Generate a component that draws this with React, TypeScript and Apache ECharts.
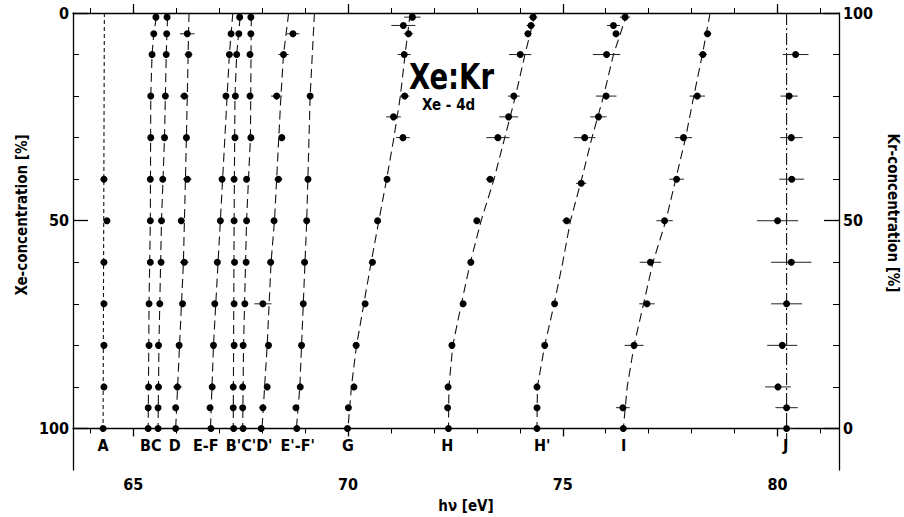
import React, { useEffect, useRef } from "react";
import * as echarts from "echarts";

// ---- measured points: [Xe-concentration %, hν eV, ± error eV] ----
const ptsA = [[40, 64.32, 0], [50, 64.39, 0], [60, 64.32, 0], [70, 64.32, 0], [80, 64.32, 0], [90, 64.32, 0], [100, 64.30, 0]];
const ptsB = [[1, 65.53, 0], [5, 65.48, 0], [10, 65.44, 0], [20, 65.41, 0], [30, 65.41, 0], [40, 65.40, 0], [50, 65.40, 0], [60, 65.40, 0], [70, 65.37, 0], [80, 65.37, 0], [90, 65.36, 0], [95, 65.35, 0], [100, 65.35, 0]];
const ptsC = [[1, 65.79, 0], [5, 65.78, 0], [10, 65.77, 0], [20, 65.75, 0], [30, 65.73, 0], [40, 65.69, 0], [50, 65.66, 0], [60, 65.65, 0], [70, 65.62, 0], [80, 65.59, 0], [90, 65.59, 0], [95, 65.58, 0], [100, 65.58, 0]];
const ptsD = [[5, 66.26, 0.17], [10, 66.29, 0.09], [20, 66.19, 0.1], [30, 66.24, 0.03], [40, 66.26, 0.1], [50, 66.12, 0.05], [60, 66.19, 0.1], [70, 66.15, 0.03], [80, 66.07, 0.03], [90, 66.03, 0.1], [95, 65.99, 0.04], [100, 65.99, 0.03]];
const ptsEF = [[5, 67.28, 0], [10, 67.24, 0], [20, 67.16, 0], [40, 67.07, 0], [50, 67.03, 0], [60, 66.96, 0], [70, 66.90, 0], [80, 66.87, 0], [90, 66.84, 0], [95, 66.79, 0], [100, 66.81, 0]];
const ptsB2 = [[1, 67.48, 0], [5, 67.46, 0], [10, 67.41, 0], [20, 67.38, 0], [30, 67.37, 0], [40, 67.35, 0], [50, 67.35, 0], [60, 67.36, 0], [70, 67.35, 0], [80, 67.35, 0], [90, 67.33, 0], [95, 67.33, 0], [100, 67.34, 0]];
const ptsC2 = [[1, 67.74, 0], [5, 67.74, 0], [10, 67.72, 0], [20, 67.72, 0], [30, 67.74, 0], [40, 67.64, 0], [50, 67.64, 0], [60, 67.63, 0], [70, 67.60, 0], [80, 67.56, 0], [90, 67.55, 0], [95, 67.55, 0], [100, 67.56, 0]];
const ptsD2 = [[5, 68.72, 0.15], [10, 68.50, 0.12], [20, 68.34, 0.13], [30, 68.46, 0.08], [40, 68.38, 0.09], [50, 68.28, 0.04], [60, 68.20, 0.05], [70, 68.02, 0.2], [80, 68.15, 0.06], [90, 68.12, 0.03], [95, 68.02, 0.08], [100, 67.98, 0.09]];
const ptsEF2 = [[20, 69.12, 0], [40, 69.07, 0], [50, 69.04, 0], [60, 68.99, 0], [70, 68.96, 0], [80, 68.92, 0], [90, 68.89, 0], [95, 68.79, 0], [100, 68.81, 0]];
const ptsG = [[1, 71.50, 0.19], [3, 71.29, 0.28], [5, 71.41, 0.11], [10, 71.31, 0.15], [20, 71.32, 0.11], [25, 71.06, 0.17], [30, 71.28, 0.16], [40, 70.91, 0.05], [50, 70.69, 0.03], [60, 70.57, 0.03], [70, 70.40, 0.05], [80, 70.19, 0.05], [90, 70.14, 0.03], [95, 70.01, 0.03], [100, 69.99, 0.03]];
const ptsH = [[1, 74.31, 0.1], [3, 74.26, 0.1], [5, 74.19, 0.08], [10, 74.01, 0.26], [20, 73.86, 0.14], [25, 73.74, 0.22], [30, 73.49, 0.27], [40, 73.31, 0.1], [50, 73.00, 0.05], [60, 72.86, 0.03], [70, 72.68, 0.03], [80, 72.42, 0.03], [90, 72.33, 0.03], [95, 72.32, 0.03], [100, 72.34, 0.03]];
const ptsH2 = [[1, 76.45, 0.12], [3, 76.18, 0.15], [5, 76.24, 0.07], [10, 76.02, 0.32], [20, 76.01, 0.24], [25, 75.83, 0.19], [30, 75.51, 0.25], [41, 75.43, 0.12], [50, 75.09, 0.1], [70, 74.81, 0.05], [80, 74.58, 0.03], [90, 74.40, 0.03], [95, 74.40, 0.03], [100, 74.40, 0.03]];
const ptsI = [[5, 78.37, 0.09], [10, 78.26, 0.1], [20, 78.13, 0.18], [30, 77.81, 0.2], [40, 77.65, 0.17], [50, 77.37, 0.19], [60, 77.04, 0.25], [70, 76.96, 0.18], [80, 76.66, 0.22], [95, 76.40, 0.16], [100, 76.41, 0.09]];
const ptsJ = [[10, 80.42, 0.3], [20, 80.27, 0.2], [30, 80.32, 0.26], [40, 80.33, 0.29], [50, 80.00, 0.48], [60, 80.32, 0.47], [70, 80.21, 0.36], [80, 80.11, 0.35], [90, 80.01, 0.3], [95, 80.21, 0.26], [100, 80.21, 0.16]];

// ---- dashed guide curves: [Xe-concentration %, hν eV] ----
const fitA = [[0, 64.33], [100, 64.30]];
const fitB = [[1, 65.54], [5, 65.48], [10, 65.44], [20, 65.41], [50, 65.40], [70, 65.37], [100, 65.35]];
const fitC = [[1, 65.80], [10, 65.77], [30, 65.73], [50, 65.66], [80, 65.60], [100, 65.58]];
const fitD = [[0, 66.30], [30, 66.24], [60, 66.17], [80, 66.08], [100, 65.99]];
const fitEF = [[0, 67.32], [10, 67.24], [50, 67.03], [80, 66.87], [100, 66.80]];
const fitB2 = [[1, 67.49], [10, 67.41], [20, 67.37], [50, 67.35], [100, 67.33]];
const fitC2 = [[1, 67.75], [30, 67.73], [50, 67.64], [80, 67.57], [100, 67.55]];
const fitD2 = [[0, 68.62], [10, 68.50], [20, 68.44], [50, 68.29], [60, 68.21], [80, 68.12], [100, 68.00]];
const fitEF2 = [[0, 69.22], [20, 69.12], [50, 69.04], [90, 68.88], [100, 68.80]];
const fitG = [[0, 71.45], [10, 71.33], [20, 71.22], [30, 71.07], [40, 70.90], [50, 70.72], [60, 70.54], [70, 70.37], [80, 70.20], [90, 70.08], [100, 70.00]];
const fitH = [[0, 74.36], [10, 74.12], [20, 73.90], [30, 73.65], [40, 73.40], [50, 73.10], [60, 72.85], [70, 72.64], [80, 72.44], [90, 72.35], [100, 72.34]];
const fitH2 = [[0, 76.50], [10, 76.18], [20, 75.95], [30, 75.68], [40, 75.44], [50, 75.18], [60, 75.00], [70, 74.80], [80, 74.58], [90, 74.41], [100, 74.40]];
const fitI = [[0, 78.43], [10, 78.25], [20, 78.05], [30, 77.86], [40, 77.63], [50, 77.40], [60, 77.10], [70, 76.88], [80, 76.66], [90, 76.50], [100, 76.41]];
const fitJ = [[0, 80.21], [104, 80.21]];

// ---- peak labels ----
const peakNames = ["A", "BC", "D", "E-F", "B'C'D'", "E'-F'", "G", "H", "H'", "I", "J"];
const peakLabelEv = [64.30, 65.41, 65.97, 66.69, 67.70, 68.83, 70.0, 72.31, 74.52, 76.42, 80.19];
const peakLabelXe = 104;

// ---- axes ----
const xMajorTicks = [65, 70, 75, 80];
const xMinorTicks = [64, 65, 66, 67, 68, 69, 70, 71, 72, 73, 74, 75, 76, 77, 78, 79, 80, 81];
const yMajorTicks = [0, 50, 100];
const yMinorTicks = [10, 20, 30, 40, 60, 70, 80, 90];
const krMajorTicks = [0, 50, 100];
const krMinorTicks = [10, 20, 30, 40, 60, 70, 80, 90];

const FONT = '"DejaVu Sans Condensed", "DejaVu Sans", sans-serif';

const lines = [
  { pts: ptsA, fit: fitA, dash: [4, 3] },
  { pts: ptsB, fit: fitB, dash: [9, 5] },
  { pts: ptsC, fit: fitC, dash: [9, 5] },
  { pts: ptsD, fit: fitD, dash: [9, 5] },
  { pts: ptsEF, fit: fitEF, dash: [9, 5] },
  { pts: ptsB2, fit: fitB2, dash: [9, 5] },
  { pts: ptsC2, fit: fitC2, dash: [9, 5] },
  { pts: ptsD2, fit: fitD2, dash: [9, 5] },
  { pts: ptsEF2, fit: fitEF2, dash: [9, 5] },
  { pts: ptsG, fit: fitG, dash: [9, 5] },
  { pts: ptsH, fit: fitH, dash: [9, 5] },
  { pts: ptsH2, fit: fitH2, dash: [9, 5] },
  { pts: ptsI, fit: fitI, dash: [9, 5] },
  { pts: ptsJ, fit: fitJ, dash: [12, 3, 2, 3] },
];

const X_MIN = 63.6;
const X_MAX = 81.43;

function App() {
  const ref = useRef<HTMLDivElement>(null);
  useEffect(() => {
    if (!ref.current) return;
    const chart = echarts.init(ref.current, null, { renderer: "svg" });

    const baseX = {
      type: "value",
      min: X_MIN,
      max: X_MAX,
      splitLine: { show: false },
      axisLine: { show: true, lineStyle: { color: "#000", width: 1.3 } },
    };
    const baseY = {
      type: "value",
      min: 0,
      max: 110,
      inverse: true,
      splitLine: { show: false },
      axisLine: { show: true, onZero: false, lineStyle: { color: "#000", width: 1.3 } },
    };

    const series: any[] = [];
    lines.forEach((l) => {
      series.push({
        type: "line",
        data: l.fit.map((p) => [p[1], p[0]]),
        showSymbol: false,
        symbol: "none",
        lineStyle: { color: "#111", width: 1.1, type: l.dash },
        silent: true,
        z: 1,
      });
    });
    const errData: any[] = [];
    lines.forEach((l) => l.pts.forEach((p) => { if (p[2] > 0) errData.push([p[1], p[0], p[2]]); }));
    series.push({
      type: "custom",
      data: errData,
      renderItem: (_params: any, api: any) => {
        const x = api.value(0), y = api.value(1), e = api.value(2);
        const a = api.coord([x - e, y]);
        const b = api.coord([x + e, y]);
        return {
          type: "line",
          shape: { x1: a[0], y1: a[1], x2: b[0], y2: b[1] },
          style: { stroke: "#222", lineWidth: 1 },
        };
      },
      silent: true,
      z: 2,
    });
    const ptData: any[] = [];
    lines.forEach((l) => l.pts.forEach((p) => ptData.push([p[1], p[0]])));
    series.push({
      type: "scatter",
      data: ptData,
      symbol: "circle",
      symbolSize: 7,
      itemStyle: { color: "#000", opacity: 1 },
      silent: true,
      z: 3,
    });
    series.push({
      type: "scatter",
      data: peakNames.map((n, i) => ({ name: n, value: [peakLabelEv[i], peakLabelXe] })),
      symbolSize: 1,
      itemStyle: { color: "rgba(0,0,0,0)", opacity: 1 },
      label: {
        show: true,
        position: "inside",
        formatter: "{b}",
        color: "#000",
        opacity: 1,
        fontSize: 16,
        fontWeight: "bold",
        fontFamily: FONT,
      },
      silent: true,
      z: 4,
    });

    chart.setOption({
      animation: false,
      backgroundColor: "#fff",
      grid: { left: 73, right: 65, top: 13, bottom: 47 },
      xAxis: [
        {
          ...baseX,
          position: "bottom",
          axisTick: { show: true, inside: true, length: 9, customValues: xMajorTicks, lineStyle: { color: "#000", width: 1.3 } },
          axisLabel: { show: true, customValues: xMajorTicks, margin: 6, color: "#000", fontSize: 16, fontFamily: FONT, fontWeight: "bold" },
        },
        {
          ...baseX,
          position: "bottom",
          axisLine: { show: false },
          axisTick: { show: true, inside: true, length: 5, customValues: xMinorTicks, lineStyle: { color: "#000", width: 1 } },
          axisLabel: { show: false },
        },
        {
          ...baseX,
          position: "top",
          axisTick: { show: true, inside: true, length: 5, customValues: xMinorTicks, lineStyle: { color: "#000", width: 1 } },
          axisLabel: { show: false },
        },
        {
          ...baseX,
          position: "top",
          axisLine: { show: false },
          axisTick: { show: true, inside: true, length: 8, customValues: xMajorTicks, lineStyle: { color: "#000", width: 1.3 } },
          axisLabel: { show: false },
        },
      ],
      yAxis: [
        {
          ...baseY,
          position: "left",
          axisTick: { show: true, inside: true, length: 15, customValues: yMajorTicks, lineStyle: { color: "#000", width: 1.3 } },
          axisLabel: { show: true, customValues: yMajorTicks, margin: 4, color: "#000", fontSize: 16, fontFamily: FONT, fontWeight: "bold" },
        },
        {
          ...baseY,
          position: "left",
          axisLine: { show: false },
          axisTick: { show: true, inside: true, length: 6, customValues: yMinorTicks, lineStyle: { color: "#000", width: 1 } },
          axisLabel: { show: false },
        },
        {
          type: "value",
          min: -10,
          max: 100,
          position: "right",
          splitLine: { show: false },
          axisLine: { show: true, onZero: false, lineStyle: { color: "#000", width: 1.3 } },
          axisTick: { show: true, inside: true, length: 15, customValues: krMajorTicks, lineStyle: { color: "#000", width: 1.3 } },
          axisLabel: { show: true, customValues: krMajorTicks, margin: 4, color: "#000", fontSize: 16, fontFamily: FONT, fontWeight: "bold" },
        },
        {
          type: "value",
          min: -10,
          max: 100,
          position: "right",
          splitLine: { show: false },
          axisLine: { show: false },
          axisTick: { show: true, inside: true, length: 6, customValues: krMinorTicks, lineStyle: { color: "#000", width: 1 } },
          axisLabel: { show: false },
        },
      ],
      graphic: [
        {
          type: "text",
          x: 409,
          y: 77,
          scaleX: 0.85,
          style: { text: "Xe:Kr", fill: "#000", font: `bold 36px ${FONT}`, textVerticalAlign: "middle", textAlign: "left" },
        },
        {
          type: "text",
          x: 422,
          y: 105,
          style: { text: "Xe - 4d", fill: "#000", font: `bold 15px ${FONT}`, textVerticalAlign: "middle", textAlign: "left" },
        },
        {
          type: "text",
          x: 22,
          y: 215,
          rotation: Math.PI / 2,
          style: { text: "Xe-concentration [%]", fill: "#000", font: `bold 15px ${FONT}`, textAlign: "center", textVerticalAlign: "middle" },
        },
        {
          type: "text",
          x: 893,
          y: 213,
          rotation: -Math.PI / 2,
          style: { text: "Kr-concentration [%]", fill: "#000", font: `bold 15px ${FONT}`, textAlign: "center", textVerticalAlign: "middle" },
        },
        {
          type: "text",
          x: 466,
          y: 506,
          style: { text: "hν [eV]", fill: "#000", font: `bold 15px ${FONT}`, textAlign: "center", textVerticalAlign: "middle" },
        },
      ],
      series,
    });
    return () => chart.dispose();
  }, []);
  return <div ref={ref} style={{ position: "fixed", left: 0, top: 0, width: 904, height: 517 }} />;
}

export default App;
